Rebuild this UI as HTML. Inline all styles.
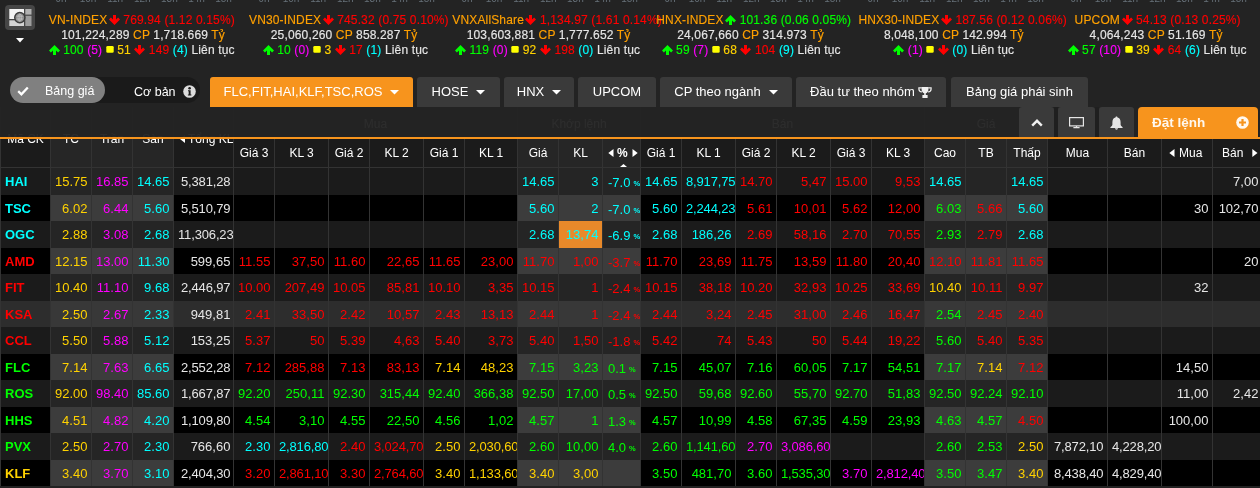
<!DOCTYPE html>
<html lang="vi"><head><meta charset="utf-8"><title>Bảng giá</title>
<style>
*{box-sizing:border-box;margin:0;padding:0}
html,body{width:1260px;height:488px;overflow:hidden;background:#222}
body{position:relative;font-family:"Liberation Sans",Arial,sans-serif;color:#e6e6e6}
.ab{position:absolute}
#grid{position:absolute;left:0;top:0;width:1260px;height:488px;overflow:hidden}
.row{position:absolute;left:0;width:1280px;height:26.5px}
.cell{position:absolute;top:0;height:26.5px;overflow:hidden;white-space:nowrap;font-size:13px;line-height:27px;padding:0 3.6px 0 4px;text-align:right}
.cell.l{text-align:left}
.code{font-weight:bold;padding-left:4px}
.cell.pct{padding-left:5px;line-height:29px}
.pct i{font-style:normal;font-weight:bold;font-size:7.5px;margin-left:3px;vertical-align:1px}
.vl{position:absolute;width:1px;background:#333}
.hd{position:absolute;font-size:12px;color:#fff;text-align:center;white-space:nowrap;overflow:hidden}
#ov{position:absolute;left:0;top:0;width:1260px;height:139px;background:rgba(35,35,35,.96);border-bottom:2px solid #f7941d}
.idx{position:absolute;font-size:12px;white-space:nowrap;line-height:15px;letter-spacing:.15px;-webkit-text-stroke:.15px}
.o{color:#ffa000}.r{color:#ff0000}.g{color:#00ff00}.m{color:#ff00ff}.c{color:#00ffff}.y{color:#ffd200}.w{color:#e6e6e6}
.btn{position:absolute;top:77px;height:30px;background:#3a3a3a;border-radius:3px 3px 0 0;color:#fff;font-size:13px;line-height:30px;white-space:nowrap}
.btn2{position:absolute;top:107px;height:30px;background:#3a3a3a;border-radius:3px 3px 0 0}
</style></head><body>

<div id="grid">
<div class="ab" style="left:0px;top:107px;width:1260px;height:60px;background:#1b1b1b"></div>
<div class="ab" style="left:51px;top:107px;width:40px;height:60px;background:#262626"></div>
<div class="ab" style="left:92px;top:107px;width:40px;height:60px;background:#262626"></div>
<div class="ab" style="left:133px;top:107px;width:40px;height:60px;background:#262626"></div>
<div class="ab" style="left:518px;top:107px;width:40px;height:60px;background:#262626"></div>
<div class="ab" style="left:559px;top:107px;width:43px;height:60px;background:#262626"></div>
<div class="ab" style="left:603px;top:107px;width:37px;height:60px;background:#262626"></div>
<div class="ab" style="left:925px;top:107px;width:40px;height:60px;background:#262626"></div>
<div class="ab" style="left:966px;top:107px;width:40px;height:60px;background:#262626"></div>
<div class="ab" style="left:1007px;top:107px;width:40px;height:60px;background:#262626"></div>
<div class="ab" style="left:0;top:167px;width:1260px;height:1px;background:#333"></div>
<div class="ab" style="left:233px;top:138px;width:1027px;height:1px;background:#333"></div>
<div class="row" style="top:168.0px;background:#1b1b1b">
<div class="cell l code" style="left:1px;width:49px;color:#00ffff">HAI</div>
<div class="cell" style="left:51px;width:40px;color:#ffd200;background:#252525">15.75</div>
<div class="cell" style="left:92px;width:40px;color:#ff00ff;background:#252525">16.85</div>
<div class="cell" style="left:133px;width:40px;color:#00ffff;background:#252525">14.65</div>
<div class="cell" style="left:174px;width:59px;color:#e6e6e6;padding-right:2.6px;letter-spacing:-0.15px">5,381,28</div>
<div class="cell" style="left:234px;width:40px;color:#e6e6e6"></div>
<div class="cell" style="left:275px;width:53px;color:#e6e6e6"></div>
<div class="cell" style="left:329px;width:40px;color:#e6e6e6"></div>
<div class="cell" style="left:370px;width:53px;color:#e6e6e6"></div>
<div class="cell" style="left:424px;width:40px;color:#e6e6e6"></div>
<div class="cell" style="left:465px;width:52px;color:#e6e6e6"></div>
<div class="cell" style="left:518px;width:40px;color:#00ffff;background:#252525">14.65</div>
<div class="cell" style="left:559px;width:43px;color:#00ffff;background:#252525">3</div>
<div class="cell l pct" style="left:603px;width:37px;color:#00ffff;background:#252525">-7.0<i>%</i></div>
<div class="cell" style="left:641px;width:40px;color:#00ffff">14.65</div>
<div class="cell" style="left:682px;width:53px;color:#00ffff;letter-spacing:-0.15px">8,917,75</div>
<div class="cell" style="left:736px;width:40px;color:#ff0000">14.70</div>
<div class="cell" style="left:777px;width:53px;color:#ff0000">5,47</div>
<div class="cell" style="left:831px;width:40px;color:#ff0000">15.00</div>
<div class="cell" style="left:872px;width:52px;color:#ff0000">9,53</div>
<div class="cell" style="left:925px;width:40px;color:#00ffff;background:#252525">14.65</div>
<div class="cell" style="left:966px;width:40px;color:#e6e6e6;background:#252525"></div>
<div class="cell" style="left:1007px;width:40px;color:#00ffff;background:#252525">14.65</div>
<div class="cell" style="left:1048px;width:59px;color:#e6e6e6"></div>
<div class="cell" style="left:1108px;width:53px;color:#e6e6e6"></div>
<div class="cell" style="left:1162px;width:50px;color:#e6e6e6"></div>
<div class="cell" style="left:1213px;width:49px;color:#e6e6e6">7,00</div>
</div>
<div class="row" style="top:194.5px;background:#000">
<div class="cell l code" style="left:1px;width:49px;color:#00ffff">TSC</div>
<div class="cell" style="left:51px;width:40px;color:#ffd200;background:#3c3c3c">6.02</div>
<div class="cell" style="left:92px;width:40px;color:#ff00ff;background:#3c3c3c">6.44</div>
<div class="cell" style="left:133px;width:40px;color:#00ffff;background:#3c3c3c">5.60</div>
<div class="cell" style="left:174px;width:59px;color:#e6e6e6;padding-right:2.6px;letter-spacing:-0.15px">5,510,79</div>
<div class="cell" style="left:234px;width:40px;color:#e6e6e6"></div>
<div class="cell" style="left:275px;width:53px;color:#e6e6e6"></div>
<div class="cell" style="left:329px;width:40px;color:#e6e6e6"></div>
<div class="cell" style="left:370px;width:53px;color:#e6e6e6"></div>
<div class="cell" style="left:424px;width:40px;color:#e6e6e6"></div>
<div class="cell" style="left:465px;width:52px;color:#e6e6e6"></div>
<div class="cell" style="left:518px;width:40px;color:#00ffff;background:#3c3c3c">5.60</div>
<div class="cell" style="left:559px;width:43px;color:#00ffff;background:#3c3c3c">2</div>
<div class="cell l pct" style="left:603px;width:37px;color:#00ffff;background:#3c3c3c">-7.0<i>%</i></div>
<div class="cell" style="left:641px;width:40px;color:#00ffff">5.60</div>
<div class="cell" style="left:682px;width:53px;color:#00ffff;letter-spacing:-0.15px">2,244,23</div>
<div class="cell" style="left:736px;width:40px;color:#ff0000">5.61</div>
<div class="cell" style="left:777px;width:53px;color:#ff0000">10,01</div>
<div class="cell" style="left:831px;width:40px;color:#ff0000">5.62</div>
<div class="cell" style="left:872px;width:52px;color:#ff0000">12,00</div>
<div class="cell" style="left:925px;width:40px;color:#00ff00;background:#3c3c3c">6.03</div>
<div class="cell" style="left:966px;width:40px;color:#ff0000;background:#3c3c3c">5.66</div>
<div class="cell" style="left:1007px;width:40px;color:#00ffff;background:#3c3c3c">5.60</div>
<div class="cell" style="left:1048px;width:59px;color:#e6e6e6"></div>
<div class="cell" style="left:1108px;width:53px;color:#e6e6e6"></div>
<div class="cell" style="left:1162px;width:50px;color:#e6e6e6">30</div>
<div class="cell" style="left:1213px;width:49px;color:#e6e6e6">102,70</div>
</div>
<div class="row" style="top:221.0px;background:#1b1b1b">
<div class="cell l code" style="left:1px;width:49px;color:#00ffff">OGC</div>
<div class="cell" style="left:51px;width:40px;color:#ffd200;background:#252525">2.88</div>
<div class="cell" style="left:92px;width:40px;color:#ff00ff;background:#252525">3.08</div>
<div class="cell" style="left:133px;width:40px;color:#00ffff;background:#252525">2.68</div>
<div class="cell" style="left:174px;width:59px;color:#e6e6e6;padding-right:2.6px;letter-spacing:-0.15px">11,306,23</div>
<div class="cell" style="left:234px;width:40px;color:#e6e6e6"></div>
<div class="cell" style="left:275px;width:53px;color:#e6e6e6"></div>
<div class="cell" style="left:329px;width:40px;color:#e6e6e6"></div>
<div class="cell" style="left:370px;width:53px;color:#e6e6e6"></div>
<div class="cell" style="left:424px;width:40px;color:#e6e6e6"></div>
<div class="cell" style="left:465px;width:52px;color:#e6e6e6"></div>
<div class="cell" style="left:518px;width:40px;color:#00ffff;background:#252525">2.68</div>
<div class="cell" style="left:559px;width:43px;color:#00ffff;background:#e8892a">13,74</div>
<div class="cell l pct" style="left:603px;width:37px;color:#00ffff;background:#252525">-6.9<i>%</i></div>
<div class="cell" style="left:641px;width:40px;color:#00ffff">2.68</div>
<div class="cell" style="left:682px;width:53px;color:#00ffff">186,26</div>
<div class="cell" style="left:736px;width:40px;color:#ff0000">2.69</div>
<div class="cell" style="left:777px;width:53px;color:#ff0000">58,16</div>
<div class="cell" style="left:831px;width:40px;color:#ff0000">2.70</div>
<div class="cell" style="left:872px;width:52px;color:#ff0000">70,55</div>
<div class="cell" style="left:925px;width:40px;color:#00ff00;background:#252525">2.93</div>
<div class="cell" style="left:966px;width:40px;color:#ff0000;background:#252525">2.79</div>
<div class="cell" style="left:1007px;width:40px;color:#00ffff;background:#252525">2.68</div>
<div class="cell" style="left:1048px;width:59px;color:#e6e6e6"></div>
<div class="cell" style="left:1108px;width:53px;color:#e6e6e6"></div>
<div class="cell" style="left:1162px;width:50px;color:#e6e6e6"></div>
<div class="cell" style="left:1213px;width:49px;color:#e6e6e6"></div>
</div>
<div class="row" style="top:247.5px;background:#000">
<div class="cell l code" style="left:1px;width:49px;color:#ff0000">AMD</div>
<div class="cell" style="left:51px;width:40px;color:#ffd200;background:#3c3c3c">12.15</div>
<div class="cell" style="left:92px;width:40px;color:#ff00ff;background:#3c3c3c">13.00</div>
<div class="cell" style="left:133px;width:40px;color:#00ffff;background:#3c3c3c">11.30</div>
<div class="cell" style="left:174px;width:59px;color:#e6e6e6;padding-right:2.6px">599,65</div>
<div class="cell" style="left:234px;width:40px;color:#ff0000">11.55</div>
<div class="cell" style="left:275px;width:53px;color:#ff0000">37,50</div>
<div class="cell" style="left:329px;width:40px;color:#ff0000">11.60</div>
<div class="cell" style="left:370px;width:53px;color:#ff0000">22,65</div>
<div class="cell" style="left:424px;width:40px;color:#ff0000">11.65</div>
<div class="cell" style="left:465px;width:52px;color:#ff0000">23,00</div>
<div class="cell" style="left:518px;width:40px;color:#ff0000;background:#3c3c3c">11.70</div>
<div class="cell" style="left:559px;width:43px;color:#ff0000;background:#3c3c3c">1,00</div>
<div class="cell l pct" style="left:603px;width:37px;color:#ff0000;background:#3c3c3c">-3.7<i>%</i></div>
<div class="cell" style="left:641px;width:40px;color:#ff0000">11.70</div>
<div class="cell" style="left:682px;width:53px;color:#ff0000">23,69</div>
<div class="cell" style="left:736px;width:40px;color:#ff0000">11.75</div>
<div class="cell" style="left:777px;width:53px;color:#ff0000">13,59</div>
<div class="cell" style="left:831px;width:40px;color:#ff0000">11.80</div>
<div class="cell" style="left:872px;width:52px;color:#ff0000">20,40</div>
<div class="cell" style="left:925px;width:40px;color:#ff0000;background:#3c3c3c">12.10</div>
<div class="cell" style="left:966px;width:40px;color:#ff0000;background:#3c3c3c">11.81</div>
<div class="cell" style="left:1007px;width:40px;color:#ff0000;background:#3c3c3c">11.65</div>
<div class="cell" style="left:1048px;width:59px;color:#e6e6e6"></div>
<div class="cell" style="left:1108px;width:53px;color:#e6e6e6"></div>
<div class="cell" style="left:1162px;width:50px;color:#e6e6e6"></div>
<div class="cell" style="left:1213px;width:49px;color:#e6e6e6">20</div>
</div>
<div class="row" style="top:274.0px;background:#1b1b1b">
<div class="cell l code" style="left:1px;width:49px;color:#ff0000">FIT</div>
<div class="cell" style="left:51px;width:40px;color:#ffd200;background:#252525">10.40</div>
<div class="cell" style="left:92px;width:40px;color:#ff00ff;background:#252525">11.10</div>
<div class="cell" style="left:133px;width:40px;color:#00ffff;background:#252525">9.68</div>
<div class="cell" style="left:174px;width:59px;color:#e6e6e6;padding-right:2.6px;letter-spacing:-0.15px">2,446,97</div>
<div class="cell" style="left:234px;width:40px;color:#ff0000">10.00</div>
<div class="cell" style="left:275px;width:53px;color:#ff0000">207,49</div>
<div class="cell" style="left:329px;width:40px;color:#ff0000">10.05</div>
<div class="cell" style="left:370px;width:53px;color:#ff0000">85,81</div>
<div class="cell" style="left:424px;width:40px;color:#ff0000">10.10</div>
<div class="cell" style="left:465px;width:52px;color:#ff0000">3,35</div>
<div class="cell" style="left:518px;width:40px;color:#ff0000;background:#252525">10.15</div>
<div class="cell" style="left:559px;width:43px;color:#ff0000;background:#252525">1</div>
<div class="cell l pct" style="left:603px;width:37px;color:#ff0000;background:#252525">-2.4<i>%</i></div>
<div class="cell" style="left:641px;width:40px;color:#ff0000">10.15</div>
<div class="cell" style="left:682px;width:53px;color:#ff0000">38,18</div>
<div class="cell" style="left:736px;width:40px;color:#ff0000">10.20</div>
<div class="cell" style="left:777px;width:53px;color:#ff0000">32,93</div>
<div class="cell" style="left:831px;width:40px;color:#ff0000">10.25</div>
<div class="cell" style="left:872px;width:52px;color:#ff0000">33,69</div>
<div class="cell" style="left:925px;width:40px;color:#ffd200;background:#252525">10.40</div>
<div class="cell" style="left:966px;width:40px;color:#ff0000;background:#252525">10.11</div>
<div class="cell" style="left:1007px;width:40px;color:#ff0000;background:#252525">9.97</div>
<div class="cell" style="left:1048px;width:59px;color:#e6e6e6"></div>
<div class="cell" style="left:1108px;width:53px;color:#e6e6e6"></div>
<div class="cell" style="left:1162px;width:50px;color:#e6e6e6">32</div>
<div class="cell" style="left:1213px;width:49px;color:#e6e6e6"></div>
</div>
<div class="row" style="top:300.5px;background:#2d2d2d">
<div class="cell l code" style="left:1px;width:49px;color:#ff0000">KSA</div>
<div class="cell" style="left:51px;width:40px;color:#ffd200;background:#383838">2.50</div>
<div class="cell" style="left:92px;width:40px;color:#ff00ff;background:#383838">2.67</div>
<div class="cell" style="left:133px;width:40px;color:#00ffff;background:#383838">2.33</div>
<div class="cell" style="left:174px;width:59px;color:#e6e6e6;padding-right:2.6px">949,81</div>
<div class="cell" style="left:234px;width:40px;color:#ff0000">2.41</div>
<div class="cell" style="left:275px;width:53px;color:#ff0000">33,50</div>
<div class="cell" style="left:329px;width:40px;color:#ff0000">2.42</div>
<div class="cell" style="left:370px;width:53px;color:#ff0000">10,57</div>
<div class="cell" style="left:424px;width:40px;color:#ff0000">2.43</div>
<div class="cell" style="left:465px;width:52px;color:#ff0000">13,13</div>
<div class="cell" style="left:518px;width:40px;color:#ff0000;background:#383838">2.44</div>
<div class="cell" style="left:559px;width:43px;color:#ff0000;background:#383838">1</div>
<div class="cell l pct" style="left:603px;width:37px;color:#ff0000;background:#383838">-2.4<i>%</i></div>
<div class="cell" style="left:641px;width:40px;color:#ff0000">2.44</div>
<div class="cell" style="left:682px;width:53px;color:#ff0000">3,24</div>
<div class="cell" style="left:736px;width:40px;color:#ff0000">2.45</div>
<div class="cell" style="left:777px;width:53px;color:#ff0000">31,00</div>
<div class="cell" style="left:831px;width:40px;color:#ff0000">2.46</div>
<div class="cell" style="left:872px;width:52px;color:#ff0000">16,47</div>
<div class="cell" style="left:925px;width:40px;color:#00ff00;background:#383838">2.54</div>
<div class="cell" style="left:966px;width:40px;color:#ff0000;background:#383838">2.45</div>
<div class="cell" style="left:1007px;width:40px;color:#ff0000;background:#383838">2.40</div>
<div class="cell" style="left:1048px;width:59px;color:#e6e6e6"></div>
<div class="cell" style="left:1108px;width:53px;color:#e6e6e6"></div>
<div class="cell" style="left:1162px;width:50px;color:#e6e6e6"></div>
<div class="cell" style="left:1213px;width:49px;color:#e6e6e6"></div>
</div>
<div class="row" style="top:327.0px;background:#1b1b1b">
<div class="cell l code" style="left:1px;width:49px;color:#ff0000">CCL</div>
<div class="cell" style="left:51px;width:40px;color:#ffd200;background:#252525">5.50</div>
<div class="cell" style="left:92px;width:40px;color:#ff00ff;background:#252525">5.88</div>
<div class="cell" style="left:133px;width:40px;color:#00ffff;background:#252525">5.12</div>
<div class="cell" style="left:174px;width:59px;color:#e6e6e6;padding-right:2.6px">153,25</div>
<div class="cell" style="left:234px;width:40px;color:#ff0000">5.37</div>
<div class="cell" style="left:275px;width:53px;color:#ff0000">50</div>
<div class="cell" style="left:329px;width:40px;color:#ff0000">5.39</div>
<div class="cell" style="left:370px;width:53px;color:#ff0000">4,63</div>
<div class="cell" style="left:424px;width:40px;color:#ff0000">5.40</div>
<div class="cell" style="left:465px;width:52px;color:#ff0000">3,73</div>
<div class="cell" style="left:518px;width:40px;color:#ff0000;background:#252525">5.40</div>
<div class="cell" style="left:559px;width:43px;color:#ff0000;background:#252525">1,50</div>
<div class="cell l pct" style="left:603px;width:37px;color:#ff0000;background:#252525">-1.8<i>%</i></div>
<div class="cell" style="left:641px;width:40px;color:#ff0000">5.42</div>
<div class="cell" style="left:682px;width:53px;color:#ff0000">74</div>
<div class="cell" style="left:736px;width:40px;color:#ff0000">5.43</div>
<div class="cell" style="left:777px;width:53px;color:#ff0000">50</div>
<div class="cell" style="left:831px;width:40px;color:#ff0000">5.44</div>
<div class="cell" style="left:872px;width:52px;color:#ff0000">19,22</div>
<div class="cell" style="left:925px;width:40px;color:#00ff00;background:#252525">5.60</div>
<div class="cell" style="left:966px;width:40px;color:#ff0000;background:#252525">5.40</div>
<div class="cell" style="left:1007px;width:40px;color:#ff0000;background:#252525">5.35</div>
<div class="cell" style="left:1048px;width:59px;color:#e6e6e6"></div>
<div class="cell" style="left:1108px;width:53px;color:#e6e6e6"></div>
<div class="cell" style="left:1162px;width:50px;color:#e6e6e6"></div>
<div class="cell" style="left:1213px;width:49px;color:#e6e6e6"></div>
</div>
<div class="row" style="top:353.5px;background:#000">
<div class="cell l code" style="left:1px;width:49px;color:#00ff00">FLC</div>
<div class="cell" style="left:51px;width:40px;color:#ffd200;background:#3c3c3c">7.14</div>
<div class="cell" style="left:92px;width:40px;color:#ff00ff;background:#3c3c3c">7.63</div>
<div class="cell" style="left:133px;width:40px;color:#00ffff;background:#3c3c3c">6.65</div>
<div class="cell" style="left:174px;width:59px;color:#e6e6e6;padding-right:2.6px;letter-spacing:-0.15px">2,552,28</div>
<div class="cell" style="left:234px;width:40px;color:#ff0000">7.12</div>
<div class="cell" style="left:275px;width:53px;color:#ff0000">285,88</div>
<div class="cell" style="left:329px;width:40px;color:#ff0000">7.13</div>
<div class="cell" style="left:370px;width:53px;color:#ff0000">83,13</div>
<div class="cell" style="left:424px;width:40px;color:#ffd200">7.14</div>
<div class="cell" style="left:465px;width:52px;color:#ffd200">48,23</div>
<div class="cell" style="left:518px;width:40px;color:#00ff00;background:#3c3c3c">7.15</div>
<div class="cell" style="left:559px;width:43px;color:#00ff00;background:#3c3c3c">3,23</div>
<div class="cell l pct" style="left:603px;width:37px;color:#00ff00;background:#3c3c3c">0.1<i>%</i></div>
<div class="cell" style="left:641px;width:40px;color:#00ff00">7.15</div>
<div class="cell" style="left:682px;width:53px;color:#00ff00">45,07</div>
<div class="cell" style="left:736px;width:40px;color:#00ff00">7.16</div>
<div class="cell" style="left:777px;width:53px;color:#00ff00">60,05</div>
<div class="cell" style="left:831px;width:40px;color:#00ff00">7.17</div>
<div class="cell" style="left:872px;width:52px;color:#00ff00">54,51</div>
<div class="cell" style="left:925px;width:40px;color:#00ff00;background:#3c3c3c">7.17</div>
<div class="cell" style="left:966px;width:40px;color:#ffd200;background:#3c3c3c">7.14</div>
<div class="cell" style="left:1007px;width:40px;color:#ff0000;background:#3c3c3c">7.12</div>
<div class="cell" style="left:1048px;width:59px;color:#e6e6e6"></div>
<div class="cell" style="left:1108px;width:53px;color:#e6e6e6"></div>
<div class="cell" style="left:1162px;width:50px;color:#e6e6e6">14,50</div>
<div class="cell" style="left:1213px;width:49px;color:#e6e6e6"></div>
</div>
<div class="row" style="top:380.0px;background:#1b1b1b">
<div class="cell l code" style="left:1px;width:49px;color:#00ff00">ROS</div>
<div class="cell" style="left:51px;width:40px;color:#ffd200;background:#252525">92.00</div>
<div class="cell" style="left:92px;width:40px;color:#ff00ff;background:#252525">98.40</div>
<div class="cell" style="left:133px;width:40px;color:#00ffff;background:#252525">85.60</div>
<div class="cell" style="left:174px;width:59px;color:#e6e6e6;padding-right:2.6px;letter-spacing:-0.15px">1,667,87</div>
<div class="cell" style="left:234px;width:40px;color:#00ff00">92.20</div>
<div class="cell" style="left:275px;width:53px;color:#00ff00">250,11</div>
<div class="cell" style="left:329px;width:40px;color:#00ff00">92.30</div>
<div class="cell" style="left:370px;width:53px;color:#00ff00">315,44</div>
<div class="cell" style="left:424px;width:40px;color:#00ff00">92.40</div>
<div class="cell" style="left:465px;width:52px;color:#00ff00">366,38</div>
<div class="cell" style="left:518px;width:40px;color:#00ff00;background:#252525">92.50</div>
<div class="cell" style="left:559px;width:43px;color:#00ff00;background:#252525">17,00</div>
<div class="cell l pct" style="left:603px;width:37px;color:#00ff00;background:#252525">0.5<i>%</i></div>
<div class="cell" style="left:641px;width:40px;color:#00ff00">92.50</div>
<div class="cell" style="left:682px;width:53px;color:#00ff00">59,68</div>
<div class="cell" style="left:736px;width:40px;color:#00ff00">92.60</div>
<div class="cell" style="left:777px;width:53px;color:#00ff00">55,70</div>
<div class="cell" style="left:831px;width:40px;color:#00ff00">92.70</div>
<div class="cell" style="left:872px;width:52px;color:#00ff00">51,83</div>
<div class="cell" style="left:925px;width:40px;color:#00ff00;background:#252525">92.50</div>
<div class="cell" style="left:966px;width:40px;color:#00ff00;background:#252525">92.24</div>
<div class="cell" style="left:1007px;width:40px;color:#00ff00;background:#252525">92.10</div>
<div class="cell" style="left:1048px;width:59px;color:#e6e6e6"></div>
<div class="cell" style="left:1108px;width:53px;color:#e6e6e6"></div>
<div class="cell" style="left:1162px;width:50px;color:#e6e6e6">11,00</div>
<div class="cell" style="left:1213px;width:49px;color:#e6e6e6">2,42</div>
</div>
<div class="row" style="top:406.5px;background:#000">
<div class="cell l code" style="left:1px;width:49px;color:#00ff00">HHS</div>
<div class="cell" style="left:51px;width:40px;color:#ffd200;background:#3c3c3c">4.51</div>
<div class="cell" style="left:92px;width:40px;color:#ff00ff;background:#3c3c3c">4.82</div>
<div class="cell" style="left:133px;width:40px;color:#00ffff;background:#3c3c3c">4.20</div>
<div class="cell" style="left:174px;width:59px;color:#e6e6e6;padding-right:2.6px;letter-spacing:-0.15px">1,109,80</div>
<div class="cell" style="left:234px;width:40px;color:#00ff00">4.54</div>
<div class="cell" style="left:275px;width:53px;color:#00ff00">3,10</div>
<div class="cell" style="left:329px;width:40px;color:#00ff00">4.55</div>
<div class="cell" style="left:370px;width:53px;color:#00ff00">22,50</div>
<div class="cell" style="left:424px;width:40px;color:#00ff00">4.56</div>
<div class="cell" style="left:465px;width:52px;color:#00ff00">1,02</div>
<div class="cell" style="left:518px;width:40px;color:#00ff00;background:#3c3c3c">4.57</div>
<div class="cell" style="left:559px;width:43px;color:#00ff00;background:#3c3c3c">1</div>
<div class="cell l pct" style="left:603px;width:37px;color:#00ff00;background:#3c3c3c">1.3<i>%</i></div>
<div class="cell" style="left:641px;width:40px;color:#00ff00">4.57</div>
<div class="cell" style="left:682px;width:53px;color:#00ff00">10,99</div>
<div class="cell" style="left:736px;width:40px;color:#00ff00">4.58</div>
<div class="cell" style="left:777px;width:53px;color:#00ff00">67,35</div>
<div class="cell" style="left:831px;width:40px;color:#00ff00">4.59</div>
<div class="cell" style="left:872px;width:52px;color:#00ff00">23,93</div>
<div class="cell" style="left:925px;width:40px;color:#00ff00;background:#3c3c3c">4.63</div>
<div class="cell" style="left:966px;width:40px;color:#00ff00;background:#3c3c3c">4.57</div>
<div class="cell" style="left:1007px;width:40px;color:#ff0000;background:#3c3c3c">4.50</div>
<div class="cell" style="left:1048px;width:59px;color:#e6e6e6"></div>
<div class="cell" style="left:1108px;width:53px;color:#e6e6e6"></div>
<div class="cell" style="left:1162px;width:50px;color:#e6e6e6">100,00</div>
<div class="cell" style="left:1213px;width:49px;color:#e6e6e6"></div>
</div>
<div class="row" style="top:433.0px;background:#1b1b1b">
<div class="cell l code" style="left:1px;width:49px;color:#00ff00">PVX</div>
<div class="cell" style="left:51px;width:40px;color:#ffd200;background:#252525">2.50</div>
<div class="cell" style="left:92px;width:40px;color:#ff00ff;background:#252525">2.70</div>
<div class="cell" style="left:133px;width:40px;color:#00ffff;background:#252525">2.30</div>
<div class="cell" style="left:174px;width:59px;color:#e6e6e6;padding-right:2.6px">766,60</div>
<div class="cell" style="left:234px;width:40px;color:#00ffff">2.30</div>
<div class="cell" style="left:275px;width:53px;color:#00ffff;letter-spacing:-0.15px">2,816,80</div>
<div class="cell" style="left:329px;width:40px;color:#ff0000">2.40</div>
<div class="cell" style="left:370px;width:53px;color:#ff0000;letter-spacing:-0.15px">3,024,70</div>
<div class="cell" style="left:424px;width:40px;color:#ffd200">2.50</div>
<div class="cell" style="left:465px;width:52px;color:#ffd200;letter-spacing:-0.15px">2,030,60</div>
<div class="cell" style="left:518px;width:40px;color:#00ff00;background:#252525">2.60</div>
<div class="cell" style="left:559px;width:43px;color:#00ff00;background:#252525">10,00</div>
<div class="cell l pct" style="left:603px;width:37px;color:#00ff00;background:#252525">4.0<i>%</i></div>
<div class="cell" style="left:641px;width:40px;color:#00ff00">2.60</div>
<div class="cell" style="left:682px;width:53px;color:#00ff00;letter-spacing:-0.15px">1,141,60</div>
<div class="cell" style="left:736px;width:40px;color:#ff00ff">2.70</div>
<div class="cell" style="left:777px;width:53px;color:#ff00ff;letter-spacing:-0.15px">3,086,60</div>
<div class="cell" style="left:831px;width:40px;color:#e6e6e6"></div>
<div class="cell" style="left:872px;width:52px;color:#e6e6e6"></div>
<div class="cell" style="left:925px;width:40px;color:#00ff00;background:#252525">2.60</div>
<div class="cell" style="left:966px;width:40px;color:#00ff00;background:#252525">2.53</div>
<div class="cell" style="left:1007px;width:40px;color:#ffd200;background:#252525">2.50</div>
<div class="cell" style="left:1048px;width:59px;color:#e6e6e6;letter-spacing:-0.15px">7,872,10</div>
<div class="cell" style="left:1108px;width:53px;color:#e6e6e6;letter-spacing:-0.15px">4,228,20</div>
<div class="cell" style="left:1162px;width:50px;color:#e6e6e6"></div>
<div class="cell" style="left:1213px;width:49px;color:#e6e6e6"></div>
</div>
<div class="row" style="top:459.5px;background:#000">
<div class="cell l code" style="left:1px;width:49px;color:#ffd200">KLF</div>
<div class="cell" style="left:51px;width:40px;color:#ffd200;background:#3c3c3c">3.40</div>
<div class="cell" style="left:92px;width:40px;color:#ff00ff;background:#3c3c3c">3.70</div>
<div class="cell" style="left:133px;width:40px;color:#00ffff;background:#3c3c3c">3.10</div>
<div class="cell" style="left:174px;width:59px;color:#e6e6e6;padding-right:2.6px;letter-spacing:-0.15px">2,404,30</div>
<div class="cell" style="left:234px;width:40px;color:#ff0000">3.20</div>
<div class="cell" style="left:275px;width:53px;color:#ff0000;letter-spacing:-0.15px">2,861,10</div>
<div class="cell" style="left:329px;width:40px;color:#ff0000">3.30</div>
<div class="cell" style="left:370px;width:53px;color:#ff0000;letter-spacing:-0.15px">2,764,60</div>
<div class="cell" style="left:424px;width:40px;color:#ffd200">3.40</div>
<div class="cell" style="left:465px;width:52px;color:#ffd200;letter-spacing:-0.15px">1,133,60</div>
<div class="cell" style="left:518px;width:40px;color:#ffd200;background:#3c3c3c">3.40</div>
<div class="cell" style="left:559px;width:43px;color:#ffd200;background:#3c3c3c">3,00</div>
<div class="cell l pct" style="left:603px;width:37px;color:#e6e6e6;background:#3c3c3c"></div>
<div class="cell" style="left:641px;width:40px;color:#00ff00">3.50</div>
<div class="cell" style="left:682px;width:53px;color:#00ff00">481,70</div>
<div class="cell" style="left:736px;width:40px;color:#00ff00">3.60</div>
<div class="cell" style="left:777px;width:53px;color:#00ff00;letter-spacing:-0.15px">1,535,30</div>
<div class="cell" style="left:831px;width:40px;color:#ff00ff">3.70</div>
<div class="cell" style="left:872px;width:52px;color:#ff00ff;letter-spacing:-0.15px">2,812,40</div>
<div class="cell" style="left:925px;width:40px;color:#00ff00;background:#3c3c3c">3.50</div>
<div class="cell" style="left:966px;width:40px;color:#00ff00;background:#3c3c3c">3.47</div>
<div class="cell" style="left:1007px;width:40px;color:#ffd200;background:#3c3c3c">3.40</div>
<div class="cell" style="left:1048px;width:59px;color:#e6e6e6;letter-spacing:-0.15px">8,438,40</div>
<div class="cell" style="left:1108px;width:53px;color:#e6e6e6;letter-spacing:-0.15px">4,829,40</div>
<div class="cell" style="left:1162px;width:50px;color:#e6e6e6"></div>
<div class="cell" style="left:1213px;width:49px;color:#e6e6e6"></div>
</div>
<div class="vl" style="left:0px;top:107px;height:379px"></div>
<div class="vl" style="left:50px;top:107px;height:379px"></div>
<div class="vl" style="left:91px;top:107px;height:379px"></div>
<div class="vl" style="left:132px;top:107px;height:379px"></div>
<div class="vl" style="left:173px;top:107px;height:379px"></div>
<div class="vl" style="left:233px;top:107px;height:379px"></div>
<div class="vl" style="left:274px;top:139px;height:347px"></div>
<div class="vl" style="left:328px;top:139px;height:347px"></div>
<div class="vl" style="left:369px;top:139px;height:347px"></div>
<div class="vl" style="left:423px;top:139px;height:347px"></div>
<div class="vl" style="left:464px;top:139px;height:347px"></div>
<div class="vl" style="left:517px;top:107px;height:379px"></div>
<div class="vl" style="left:558px;top:139px;height:347px"></div>
<div class="vl" style="left:602px;top:139px;height:347px"></div>
<div class="vl" style="left:640px;top:107px;height:379px"></div>
<div class="vl" style="left:681px;top:139px;height:347px"></div>
<div class="vl" style="left:735px;top:139px;height:347px"></div>
<div class="vl" style="left:776px;top:139px;height:347px"></div>
<div class="vl" style="left:830px;top:139px;height:347px"></div>
<div class="vl" style="left:871px;top:139px;height:347px"></div>
<div class="vl" style="left:924px;top:107px;height:379px"></div>
<div class="vl" style="left:965px;top:139px;height:347px"></div>
<div class="vl" style="left:1006px;top:139px;height:347px"></div>
<div class="vl" style="left:1047px;top:107px;height:379px"></div>
<div class="vl" style="left:1107px;top:139px;height:347px"></div>
<div class="vl" style="left:1161px;top:107px;height:379px"></div>
<div class="vl" style="left:1212px;top:139px;height:347px"></div>
<div class="hd" style="left:1px;top:109px;width:49px;height:60px;line-height:60px">Mã CK</div>
<div class="hd" style="left:51px;top:109px;width:40px;height:60px;line-height:60px">TC</div>
<div class="hd" style="left:92px;top:109px;width:40px;height:60px;line-height:60px">Trần</div>
<div class="hd" style="left:133px;top:109px;width:40px;height:60px;line-height:60px">Sàn</div>
<div class="hd" style="left:174px;top:109px;width:62px;height:60px;line-height:60px;text-align:left;padding-left:6px"><svg width="5" height="8" viewBox="0 0 5 8" style="vertical-align:0px;margin-right:3px"><path d="M5 0V8L0 4Z" fill="#fff"/></svg>Tổng KL</div>
<div class="hd" style="left:234px;top:109px;width:283px;height:31px;line-height:31px">Mua</div>
<div class="hd" style="left:518px;top:109px;width:122px;height:31px;line-height:31px">Khớp lệnh</div>
<div class="hd" style="left:641px;top:109px;width:283px;height:31px;line-height:31px">Bán</div>
<div class="hd" style="left:925px;top:109px;width:122px;height:31px;line-height:31px">Giá</div>
<div class="hd" style="left:1048px;top:109px;width:113px;height:31px;line-height:31px">ĐTNN</div>
<div class="hd" style="left:1162px;top:109px;width:118px;height:31px;line-height:31px">Dư</div>
<div class="hd" style="left:234px;top:139px;width:40px;height:28px;line-height:28px">Giá 3</div>
<div class="hd" style="left:275px;top:139px;width:53px;height:28px;line-height:28px">KL 3</div>
<div class="hd" style="left:329px;top:139px;width:40px;height:28px;line-height:28px">Giá 2</div>
<div class="hd" style="left:370px;top:139px;width:53px;height:28px;line-height:28px">KL 2</div>
<div class="hd" style="left:424px;top:139px;width:40px;height:28px;line-height:28px">Giá 1</div>
<div class="hd" style="left:465px;top:139px;width:52px;height:28px;line-height:28px">KL 1</div>
<div class="hd" style="left:518px;top:139px;width:40px;height:28px;line-height:28px">Giá</div>
<div class="hd" style="left:559px;top:139px;width:43px;height:28px;line-height:28px">KL</div>
<div class="hd" style="left:641px;top:139px;width:40px;height:28px;line-height:28px">Giá 1</div>
<div class="hd" style="left:682px;top:139px;width:53px;height:28px;line-height:28px">KL 1</div>
<div class="hd" style="left:736px;top:139px;width:40px;height:28px;line-height:28px">Giá 2</div>
<div class="hd" style="left:777px;top:139px;width:53px;height:28px;line-height:28px">KL 2</div>
<div class="hd" style="left:831px;top:139px;width:40px;height:28px;line-height:28px">Giá 3</div>
<div class="hd" style="left:872px;top:139px;width:52px;height:28px;line-height:28px">KL 3</div>
<div class="hd" style="left:925px;top:139px;width:40px;height:28px;line-height:28px">Cao</div>
<div class="hd" style="left:966px;top:139px;width:40px;height:28px;line-height:28px">TB</div>
<div class="hd" style="left:1007px;top:139px;width:40px;height:28px;line-height:28px">Thấp</div>
<div class="hd" style="left:1048px;top:139px;width:59px;height:28px;line-height:28px">Mua</div>
<div class="hd" style="left:1108px;top:139px;width:53px;height:28px;line-height:28px">Bán</div>
<div class="hd" style="left:603px;top:139px;width:37px;height:28px;line-height:28px;padding-left:3px"><svg width="6" height="8" viewBox="0 0 6 8" style="vertical-align:0px;margin-right:3px"><path d="M5.5 0V8L0.3 4Z" fill="#fff"/></svg><b>%</b><svg width="6" height="8" viewBox="0 0 6 8" style="vertical-align:0px;margin-left:4.5px"><path d="M0.5 0V8L5.7 4Z" fill="#fff"/></svg></div>
<svg class="ab" style="left:620px;top:164px" width="7" height="3" viewBox="0 0 7 3"><path d="M0 3L3.5 0L7 3Z" fill="#fff"/></svg>
<div class="hd" style="left:1162px;top:139px;width:50px;height:28px;line-height:28px;text-align:left;padding-left:7px"><svg width="6" height="8" viewBox="0 0 6 8" style="vertical-align:0px;margin-right:3px"><path d="M5.5 0V8L0.3 4Z" fill="#fff"/></svg><span style="margin-left:1px">Mua</span></div>
<div class="hd" style="left:1213px;top:139px;width:60px;height:28px;line-height:28px;text-align:left;padding-left:9px">Bán<svg width="6" height="8" viewBox="0 0 6 8" style="vertical-align:0px;margin-left:9px"><path d="M0.3 0V8L5.5 4Z" fill="#fff"/></svg></div>
</div>
<div id="ov">
<div class="ab" style="left:46.0px;width:30px;text-align:center;top:-6px;font-size:10px;color:#667078;line-height:9px">9h</div>
<div class="ab" style="left:73.1px;width:30px;text-align:center;top:-6px;font-size:10px;color:#667078;line-height:9px">10h</div>
<div class="ab" style="left:100.2px;width:30px;text-align:center;top:-6px;font-size:10px;color:#667078;line-height:9px">11h</div>
<div class="ab" style="left:127.3px;width:30px;text-align:center;top:-6px;font-size:10px;color:#667078;line-height:9px">12h</div>
<div class="ab" style="left:154.4px;width:30px;text-align:center;top:-6px;font-size:10px;color:#667078;line-height:9px">13h</div>
<div class="ab" style="left:181.5px;width:30px;text-align:center;top:-6px;font-size:10px;color:#667078;line-height:9px">14h</div>
<div class="ab" style="left:208.6px;width:30px;text-align:center;top:-6px;font-size:10px;color:#667078;line-height:9px">15h</div>
<div class="ab" style="left:249.0px;width:30px;text-align:center;top:-6px;font-size:10px;color:#667078;line-height:9px">9h</div>
<div class="ab" style="left:276.1px;width:30px;text-align:center;top:-6px;font-size:10px;color:#667078;line-height:9px">10h</div>
<div class="ab" style="left:303.2px;width:30px;text-align:center;top:-6px;font-size:10px;color:#667078;line-height:9px">11h</div>
<div class="ab" style="left:330.3px;width:30px;text-align:center;top:-6px;font-size:10px;color:#667078;line-height:9px">12h</div>
<div class="ab" style="left:357.4px;width:30px;text-align:center;top:-6px;font-size:10px;color:#667078;line-height:9px">13h</div>
<div class="ab" style="left:384.5px;width:30px;text-align:center;top:-6px;font-size:10px;color:#667078;line-height:9px">14h</div>
<div class="ab" style="left:411.6px;width:30px;text-align:center;top:-6px;font-size:10px;color:#667078;line-height:9px">15h</div>
<div class="ab" style="left:452.0px;width:30px;text-align:center;top:-6px;font-size:10px;color:#667078;line-height:9px">9h</div>
<div class="ab" style="left:479.1px;width:30px;text-align:center;top:-6px;font-size:10px;color:#667078;line-height:9px">10h</div>
<div class="ab" style="left:506.2px;width:30px;text-align:center;top:-6px;font-size:10px;color:#667078;line-height:9px">11h</div>
<div class="ab" style="left:533.3px;width:30px;text-align:center;top:-6px;font-size:10px;color:#667078;line-height:9px">12h</div>
<div class="ab" style="left:560.4px;width:30px;text-align:center;top:-6px;font-size:10px;color:#667078;line-height:9px">13h</div>
<div class="ab" style="left:587.5px;width:30px;text-align:center;top:-6px;font-size:10px;color:#667078;line-height:9px">14h</div>
<div class="ab" style="left:614.6px;width:30px;text-align:center;top:-6px;font-size:10px;color:#667078;line-height:9px">15h</div>
<div class="ab" style="left:655.0px;width:30px;text-align:center;top:-6px;font-size:10px;color:#667078;line-height:9px">9h</div>
<div class="ab" style="left:682.1px;width:30px;text-align:center;top:-6px;font-size:10px;color:#667078;line-height:9px">10h</div>
<div class="ab" style="left:709.2px;width:30px;text-align:center;top:-6px;font-size:10px;color:#667078;line-height:9px">11h</div>
<div class="ab" style="left:736.3px;width:30px;text-align:center;top:-6px;font-size:10px;color:#667078;line-height:9px">12h</div>
<div class="ab" style="left:763.4px;width:30px;text-align:center;top:-6px;font-size:10px;color:#667078;line-height:9px">13h</div>
<div class="ab" style="left:790.5px;width:30px;text-align:center;top:-6px;font-size:10px;color:#667078;line-height:9px">14h</div>
<div class="ab" style="left:817.6px;width:30px;text-align:center;top:-6px;font-size:10px;color:#667078;line-height:9px">15h</div>
<div class="ab" style="left:858.0px;width:30px;text-align:center;top:-6px;font-size:10px;color:#667078;line-height:9px">9h</div>
<div class="ab" style="left:885.1px;width:30px;text-align:center;top:-6px;font-size:10px;color:#667078;line-height:9px">10h</div>
<div class="ab" style="left:912.2px;width:30px;text-align:center;top:-6px;font-size:10px;color:#667078;line-height:9px">11h</div>
<div class="ab" style="left:939.3px;width:30px;text-align:center;top:-6px;font-size:10px;color:#667078;line-height:9px">12h</div>
<div class="ab" style="left:966.4px;width:30px;text-align:center;top:-6px;font-size:10px;color:#667078;line-height:9px">13h</div>
<div class="ab" style="left:993.5px;width:30px;text-align:center;top:-6px;font-size:10px;color:#667078;line-height:9px">14h</div>
<div class="ab" style="left:1020.6px;width:30px;text-align:center;top:-6px;font-size:10px;color:#667078;line-height:9px">15h</div>
<div class="ab" style="left:1061.0px;width:30px;text-align:center;top:-6px;font-size:10px;color:#667078;line-height:9px">9h</div>
<div class="ab" style="left:1088.1px;width:30px;text-align:center;top:-6px;font-size:10px;color:#667078;line-height:9px">10h</div>
<div class="ab" style="left:1115.2px;width:30px;text-align:center;top:-6px;font-size:10px;color:#667078;line-height:9px">11h</div>
<div class="ab" style="left:1142.3px;width:30px;text-align:center;top:-6px;font-size:10px;color:#667078;line-height:9px">12h</div>
<div class="ab" style="left:1169.4px;width:30px;text-align:center;top:-6px;font-size:10px;color:#667078;line-height:9px">13h</div>
<div class="ab" style="left:1196.5px;width:30px;text-align:center;top:-6px;font-size:10px;color:#667078;line-height:9px">14h</div>
<div class="ab" style="left:1223.6px;width:30px;text-align:center;top:-6px;font-size:10px;color:#667078;line-height:9px">15h</div>
<div class="ab" style="left:5px;top:5px;width:30px;height:25px;background:#464646;border-radius:4px"></div>
<svg class="ab" style="left:9px;top:9px" width="23" height="17" viewBox="0 0 23 17">
<rect x="0.3" y="0" width="14.7" height="10" fill="#f4f4f4"/>
<rect x="0.3" y="11.3" width="14.7" height="5.7" fill="#d2d2d2"/>
<rect x="16.3" y="0" width="6.2" height="5.6" fill="#b2b2b2"/>
<rect x="16.3" y="6.8" width="6.2" height="10.2" fill="#9d9d9d"/>
<circle cx="10.8" cy="8.6" r="5.1" fill="#8e8e8e" stroke="#3c3c3c" stroke-width="1.4"/>
<g stroke="#c4c4c4" stroke-width="0.7" fill="none"><ellipse cx="10.8" cy="8.6" rx="1.8" ry="3.6"/><path d="M7.4 7.2H14.2M7.4 10H14.2M10.8 5V12.2"/></g>
</svg>
<svg class="ab" style="left:16px;top:38px" width="8" height="5" viewBox="0 0 8 5"><path d="M0 0H8L4 4.5Z" fill="#fff"/></svg>
<div class="idx" style="left:48.8px;top:13px"><span class="o">VN-INDEX</span> <span style="margin-left:-2px"></span><svg width="11" height="10" viewBox="0 0 11 10" style="vertical-align:-1px"><path d="M4 0H7V4.6L9.1 2.5L11 4.4L5.5 9.9L0 4.4L1.9 2.5L4 4.6Z" fill="#ff0000"/></svg> <span class="r">769.94 (1.12 0.15%)</span></div>
<div class="idx" style="left:61.2px;top:28px"><span class="w">101,224,289</span> <span class="o">CP</span> <span class="w">1,718.669</span> <span class="o">Tỷ</span></div>
<div class="idx" style="left:48.7px;top:43px"><svg width="11" height="10" viewBox="0 0 11 10" style="vertical-align:-1px"><path d="M4 10H7V5.4L9.1 7.5L11 5.6L5.5 0.1L0 5.6L1.9 7.5L4 5.4Z" fill="#00ff00"/></svg> <span class="g">100</span> <span class="m">(5)</span> <svg width="8" height="7" viewBox="0 0 8 7" style="vertical-align:1px"><rect x="0.3" y="0" width="7.4" height="6.8" rx="1.3" fill="#ffff00"/></svg> <span class="y">51</span> <svg width="11" height="10" viewBox="0 0 11 10" style="vertical-align:-1px"><path d="M4 0H7V4.6L9.1 2.5L11 4.4L5.5 9.9L0 4.4L1.9 2.5L4 4.6Z" fill="#ff0000"/></svg> <span class="r">149</span> <span class="c">(4)</span> <span class="w">Liên tục</span></div>
<div class="idx" style="left:249px;top:13px"><span class="o">VN30-INDEX</span> <span style="margin-left:-2px"></span><svg width="11" height="10" viewBox="0 0 11 10" style="vertical-align:-1px"><path d="M4 0H7V4.6L9.1 2.5L11 4.4L5.5 9.9L0 4.4L1.9 2.5L4 4.6Z" fill="#ff0000"/></svg> <span class="r">745.32 (0.75 0.10%)</span></div>
<div class="idx" style="left:270.8px;top:28px"><span class="w">25,060,260</span> <span class="o">CP</span> <span class="w">858.287</span> <span class="o">Tỷ</span></div>
<div class="idx" style="left:262.7px;top:43px"><svg width="11" height="10" viewBox="0 0 11 10" style="vertical-align:-1px"><path d="M4 10H7V5.4L9.1 7.5L11 5.6L5.5 0.1L0 5.6L1.9 7.5L4 5.4Z" fill="#00ff00"/></svg> <span class="g">10</span> <span class="m">(0)</span> <svg width="8" height="7" viewBox="0 0 8 7" style="vertical-align:1px"><rect x="0.3" y="0" width="7.4" height="6.8" rx="1.3" fill="#ffff00"/></svg> <span class="y">3</span> <svg width="11" height="10" viewBox="0 0 11 10" style="vertical-align:-1px"><path d="M4 0H7V4.6L9.1 2.5L11 4.4L5.5 9.9L0 4.4L1.9 2.5L4 4.6Z" fill="#ff0000"/></svg> <span class="r">17</span> <span class="c">(1)</span> <span class="w">Liên tục</span></div>
<div class="idx" style="left:452.3px;top:13px"><span class="o">VNXAllShare</span> <span style="margin-left:-2px"></span><svg width="11" height="10" viewBox="0 0 11 10" style="vertical-align:-1px"><path d="M4 0H7V4.6L9.1 2.5L11 4.4L5.5 9.9L0 4.4L1.9 2.5L4 4.6Z" fill="#ff0000"/></svg> <span class="r">1,134.97 (1.61 0.14%)</span></div>
<div class="idx" style="left:466.7px;top:28px"><span class="w">103,603,881</span> <span class="o">CP</span> <span class="w">1,777.652</span> <span class="o">Tỷ</span></div>
<div class="idx" style="left:455.1px;top:43px"><svg width="11" height="10" viewBox="0 0 11 10" style="vertical-align:-1px"><path d="M4 10H7V5.4L9.1 7.5L11 5.6L5.5 0.1L0 5.6L1.9 7.5L4 5.4Z" fill="#00ff00"/></svg> <span class="g">119</span> <span class="m">(0)</span> <svg width="8" height="7" viewBox="0 0 8 7" style="vertical-align:1px"><rect x="0.3" y="0" width="7.4" height="6.8" rx="1.3" fill="#ffff00"/></svg> <span class="y">92</span> <svg width="11" height="10" viewBox="0 0 11 10" style="vertical-align:-1px"><path d="M4 0H7V4.6L9.1 2.5L11 4.4L5.5 9.9L0 4.4L1.9 2.5L4 4.6Z" fill="#ff0000"/></svg> <span class="r">198</span> <span class="c">(0)</span> <span class="w">Liên tục</span></div>
<div class="idx" style="left:656.3px;top:13px"><span class="o">HNX-INDEX</span> <span style="margin-left:-2px"></span><svg width="11" height="10" viewBox="0 0 11 10" style="vertical-align:-1px"><path d="M4 10H7V5.4L9.1 7.5L11 5.6L5.5 0.1L0 5.6L1.9 7.5L4 5.4Z" fill="#00ff00"/></svg> <span class="g">101.36 (0.06 0.05%)</span></div>
<div class="idx" style="left:677.2px;top:28px"><span class="w">24,067,660</span> <span class="o">CP</span> <span class="w">314.973</span> <span class="o">Tỷ</span></div>
<div class="idx" style="left:661.6px;top:43px"><svg width="11" height="10" viewBox="0 0 11 10" style="vertical-align:-1px"><path d="M4 10H7V5.4L9.1 7.5L11 5.6L5.5 0.1L0 5.6L1.9 7.5L4 5.4Z" fill="#00ff00"/></svg> <span class="g">59</span> <span class="m">(7)</span> <svg width="8" height="7" viewBox="0 0 8 7" style="vertical-align:1px"><rect x="0.3" y="0" width="7.4" height="6.8" rx="1.3" fill="#ffff00"/></svg> <span class="y">68</span> <svg width="11" height="10" viewBox="0 0 11 10" style="vertical-align:-1px"><path d="M4 0H7V4.6L9.1 2.5L11 4.4L5.5 9.9L0 4.4L1.9 2.5L4 4.6Z" fill="#ff0000"/></svg> <span class="r">104</span> <span class="c">(9)</span> <span class="w">Liên tục</span></div>
<div class="idx" style="left:858.4px;top:13px"><span class="o">HNX30-INDEX</span> <span style="margin-left:-2px"></span><svg width="11" height="10" viewBox="0 0 11 10" style="vertical-align:-1px"><path d="M4 0H7V4.6L9.1 2.5L11 4.4L5.5 9.9L0 4.4L1.9 2.5L4 4.6Z" fill="#ff0000"/></svg> <span class="r">187.56 (0.12 0.06%)</span></div>
<div class="idx" style="left:883.9px;top:28px"><span class="w">8,048,100</span> <span class="o">CP</span> <span class="w">142.994</span> <span class="o">Tỷ</span></div>
<div class="idx" style="left:893.3px;top:43px"><svg width="11" height="10" viewBox="0 0 11 10" style="vertical-align:-1px"><path d="M4 10H7V5.4L9.1 7.5L11 5.6L5.5 0.1L0 5.6L1.9 7.5L4 5.4Z" fill="#00ff00"/></svg> <span class="m">(1)</span> <svg width="8" height="7" viewBox="0 0 8 7" style="vertical-align:1px"><rect x="0.3" y="0" width="7.4" height="6.8" rx="1.3" fill="#ffff00"/></svg> <svg width="11" height="10" viewBox="0 0 11 10" style="vertical-align:-1px"><path d="M4 0H7V4.6L9.1 2.5L11 4.4L5.5 9.9L0 4.4L1.9 2.5L4 4.6Z" fill="#ff0000"/></svg> <span class="c">(0)</span> <span class="w">Liên tục</span></div>
<div class="idx" style="left:1074.6px;top:13px"><span class="o">UPCOM</span> <span style="margin-left:-2px"></span><svg width="11" height="10" viewBox="0 0 11 10" style="vertical-align:-1px"><path d="M4 0H7V4.6L9.1 2.5L11 4.4L5.5 9.9L0 4.4L1.9 2.5L4 4.6Z" fill="#ff0000"/></svg> <span class="r">54.13 (0.13 0.25%)</span></div>
<div class="idx" style="left:1089.6px;top:28px"><span class="w">4,064,243</span> <span class="o">CP</span> <span class="w">51.169</span> <span class="o">Tỷ</span></div>
<div class="idx" style="left:1067.6px;top:43px"><svg width="11" height="10" viewBox="0 0 11 10" style="vertical-align:-1px"><path d="M4 10H7V5.4L9.1 7.5L11 5.6L5.5 0.1L0 5.6L1.9 7.5L4 5.4Z" fill="#00ff00"/></svg> <span class="g">57</span> <span class="m">(10)</span> <svg width="8" height="7" viewBox="0 0 8 7" style="vertical-align:1px"><rect x="0.3" y="0" width="7.4" height="6.8" rx="1.3" fill="#ffff00"/></svg> <span class="y">39</span> <svg width="11" height="10" viewBox="0 0 11 10" style="vertical-align:-1px"><path d="M4 0H7V4.6L9.1 2.5L11 4.4L5.5 9.9L0 4.4L1.9 2.5L4 4.6Z" fill="#ff0000"/></svg> <span class="r">64</span> <span class="c">(6)</span> <span class="w">Liên tục</span></div>
<div class="ab" style="left:10px;top:77px;width:190px;height:26px;background:#1a1a1a;border-radius:13px"></div>
<div class="ab" style="left:10px;top:77px;width:95px;height:26px;background:#808080;border-radius:13px"></div>
<svg class="ab" style="left:17px;top:86px" width="12" height="10" viewBox="0 0 12 10"><path d="M1.2 5.2L4.4 8.3L10.8 1.5" stroke="#fff" stroke-width="2.3" fill="none"/></svg>
<div class="ab" style="left:45px;top:83px;font-size:12.5px;line-height:16px;color:#fff">Bảng giá</div>
<div class="ab" style="left:134px;top:84px;font-size:12.5px;line-height:16px;color:#fff">Cơ bản</div>
<svg class="ab" style="left:183px;top:84.5px" width="13" height="13" viewBox="0 0 13 13"><circle cx="6.5" cy="6.5" r="6.3" fill="#dcdcdc"/><circle cx="6.6" cy="3.3" r="1.3" fill="#1a1a1a"/><path d="M5 5.3H7.6V9.6H8.4V10.6H4.9V9.6H5.7V6.3H5Z" fill="#1a1a1a"/></svg>
<div class="btn" style="left:210px;width:203px;background:#f7941d;display:flex;justify-content:center;align-items:center"><span>FLC,FIT,HAI,KLF,TSC,ROS</span><svg width="9" height="5" viewBox="0 0 9 5" style="margin-left:8px;vertical-align:2px"><path d="M0 0H9L4.5 4.6Z" fill="#fff"/></svg></div>
<div class="btn" style="left:417px;width:83px;background:#3a3a3a;display:flex;justify-content:center;align-items:center"><span>HOSE</span><svg width="9" height="5" viewBox="0 0 9 5" style="margin-left:8px;vertical-align:2px"><path d="M0 0H9L4.5 4.6Z" fill="#fff"/></svg></div>
<div class="btn" style="left:504px;width:70px;background:#3a3a3a;display:flex;justify-content:center;align-items:center"><span>HNX</span><svg width="9" height="5" viewBox="0 0 9 5" style="margin-left:8px;vertical-align:2px"><path d="M0 0H9L4.5 4.6Z" fill="#fff"/></svg></div>
<div class="btn" style="left:578px;width:78px;background:#3a3a3a;display:flex;justify-content:center;align-items:center"><span>UPCOM</span></div>
<div class="btn" style="left:660px;width:132px;background:#3a3a3a;display:flex;justify-content:center;align-items:center"><span>CP theo ngành</span><svg width="9" height="5" viewBox="0 0 9 5" style="margin-left:8px;vertical-align:2px"><path d="M0 0H9L4.5 4.6Z" fill="#fff"/></svg></div>
<div class="btn" style="left:796px;width:150px;background:#3a3a3a;display:flex;justify-content:center;align-items:center"><span>Đầu tư theo nhóm<svg width="14" height="11" viewBox="0 0 14 11" style="margin-left:3px;vertical-align:-2px"><path d="M3.6 0H10.4V2.4C10.4 4.6 9 5.9 7.8 6.3V8H9.6V11H4.4V8H6.2V6.3C5 5.9 3.6 4.6 3.6 2.4Z" fill="#f0f0f0"/><path d="M3.8 0.9H0.9V2C0.9 3.6 2.2 4.8 4 5M10.2 0.9H13.1V2C13.1 3.6 11.8 4.8 10 5" stroke="#f0f0f0" stroke-width="1.2" fill="none"/></svg></span></div>
<div class="btn" style="left:951px;width:137px;background:#3a3a3a;display:flex;justify-content:center;align-items:center"><span>Bảng giá phái sinh</span></div>
<div class="ab" style="left:1054px;top:107px;width:4px;height:30px;background:#1f1f1f"></div>
<div class="ab" style="left:1095px;top:107px;width:4px;height:30px;background:#1f1f1f"></div>
<div class="btn2" style="left:1019px;width:35px"></div>
<svg class="ab" style="left:1031px;top:119px" width="12" height="8" viewBox="0 0 12 8"><path d="M1.2 6.6L6 1.8L10.8 6.6" stroke="#f0f0f0" stroke-width="2.4" fill="none"/></svg>
<div class="btn2" style="left:1058px;width:37px"></div>
<svg class="ab" style="left:1069px;top:117px" width="16" height="12" viewBox="0 0 16 12"><rect x="0.6" y="0.6" width="13.8" height="8.3" fill="none" stroke="#e6e6e6" stroke-width="1.2"/><path d="M7.5 9V10.4M4.4 10.7H10.6" stroke="#e6e6e6" stroke-width="1.2"/></svg>
<div class="btn2" style="left:1099px;width:35px"></div>
<svg class="ab" style="left:1110px;top:115.5px" width="13" height="14" viewBox="0 0 13 14"><path d="M6.5 0.6C7.2 0.6 7.5 1.1 7.5 1.6C9.6 2.1 10.6 3.8 10.6 6.2V8.6C10.6 9.6 11.6 10.5 12.6 11.2V11.9H0.4V11.2C1.4 10.5 2.4 9.6 2.4 8.6V6.2C2.4 3.8 3.4 2.1 5.5 1.6C5.5 1.1 5.8 0.6 6.5 0.6Z" fill="#e6e6e6"/><path d="M5 12.3H8C8 13.2 7.3 13.7 6.5 13.7C5.7 13.7 5 13.2 5 12.3Z" fill="#e6e6e6"/></svg>
<div class="ab" style="left:1138px;top:107px;width:120px;height:31px;background:#f7941d;border-radius:4px 4px 0 0"></div>
<div class="ab" style="left:1152px;top:114px;font-size:13.5px;line-height:18px;font-weight:bold;color:#fff8ee">Đặt lệnh</div>
<svg class="ab" style="left:1235.5px;top:115.5px" width="13" height="13" viewBox="0 0 13 13"><circle cx="6.5" cy="6.5" r="6.3" fill="#fff8ee"/><path d="M6.5 3V10M3 6.5H10" stroke="#f7941d" stroke-width="2.2"/></svg>
</div>
</body></html>
